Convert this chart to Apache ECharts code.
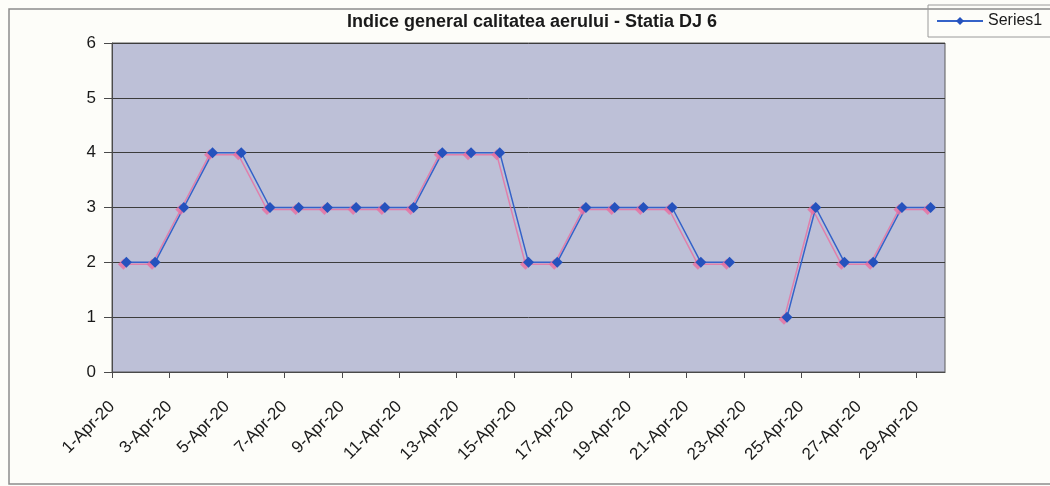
<!DOCTYPE html>
<html>
<head>
<meta charset="utf-8">
<script src="https://cdn.jsdelivr.net/npm/echarts@6/dist/echarts.min.js"></script>
<style>
  html, body { margin: 0; padding: 0; background: #fdfdf9; }
  #chart { width: 1050px; height: 486px; }
</style>
</head>
<body>
<div id="chart"></div>
<script>
// dates in the sheet, one per day
var dates = ['1-Apr-20', '2-Apr-20', '3-Apr-20', '4-Apr-20', '5-Apr-20', '6-Apr-20', '7-Apr-20',
    '8-Apr-20', '9-Apr-20', '10-Apr-20', '11-Apr-20', '12-Apr-20', '13-Apr-20', '14-Apr-20',
    '15-Apr-20', '16-Apr-20', '17-Apr-20', '18-Apr-20', '19-Apr-20', '20-Apr-20', '21-Apr-20',
    '22-Apr-20', '23-Apr-20', '24-Apr-20', '25-Apr-20', '26-Apr-20', '27-Apr-20', '28-Apr-20',
    '29-Apr-20'];
// index values, null = no reading
var series1 = [2, 2, 3, 4, 4, 3, 3, 3, 3, 3, 3, 4, 4, 4, 2, 2, 3, 3, 3, 3, 2, 2, null, 1, 3, 2, 2, 3, 3];
// every second day gets a tick + label
var labelDays = [0, 2, 4, 6, 8, 10, 12, 14, 16, 18, 20, 22, 24, 26, 28];
var yTicks = [0, 1, 2, 3, 4, 5, 6];

var font = 'Liberation Sans, Arial, sans-serif';

var points = [];
for (var i = 0; i < series1.length; i++) {
    // point sits in the middle of its day
    points.push([i + 0.5, series1[i] == null ? '-' : series1[i]]);
}

var chart = echarts.init(document.getElementById('chart'));

chart.setOption({
    backgroundColor: '#fdfdf9',
    animation: false,
    title: {
        text: 'Indice general calitatea aerului - Statia DJ 6',
        left: 527,
        textAlign: 'center',
        top: 8,
        textStyle: { fontFamily: font, fontSize: 18, fontWeight: 'bold', color: '#1a1a1a' }
    },
    legend: {
        left: 928,
        top: 5,
        padding: [8, 30, 8, 8],
        borderColor: '#9a9a9a',
        borderWidth: 1,
        itemWidth: 46,
        itemHeight: 10,
        itemGap: 4,
        textStyle: { fontFamily: font, fontSize: 16, color: '#1a1a1a' },
        data: ['Series1']
    },
    graphic: [{
        type: 'rect',
        shape: { x: 9, y: 9, width: 1060, height: 475 },
        style: { fill: 'none', stroke: '#8c8c8c', lineWidth: 1.5 },
        silent: true
    }],
    grid: {
        left: 112,
        right: 105,
        top: 43,
        bottom: 114,
        show: true,
        backgroundColor: '#bdc0d7',
        borderColor: '#5a5a5a',
        borderWidth: 1
    },
    xAxis: {
        type: 'value',
        min: 0,
        max: dates.length,
        splitLine: { show: false },
        axisLine: { show: true, lineStyle: { color: '#4a4a4a', width: 1.2 } },
        axisTick: { show: true, length: 6, customValues: labelDays, lineStyle: { color: '#4a4a4a' } },
        axisLabel: {
            customValues: labelDays,
            rotate: 45,
            margin: 32,
            fontFamily: font,
            fontSize: 17,
            color: '#1a1a1a',
            formatter: function (v) { return dates[v] || ''; }
        }
    },
    yAxis: {
        type: 'value',
        min: yTicks[0],
        max: yTicks[yTicks.length - 1],
        interval: 1,
        axisLine: { show: true, lineStyle: { color: '#4a4a4a' } },
        axisTick: { show: true, length: 8, lineStyle: { color: '#4a4a4a' } },
        splitLine: { show: true, lineStyle: { color: '#3c3c3c', width: 1 } },
        axisLabel: { margin: 16, fontFamily: font, fontSize: 17, color: '#1a1a1a' }
    },
    series: [{
        name: 'Series1',
        type: 'line',
        data: points,
        connectNulls: false,
        symbol: 'diamond',
        symbolSize: 11,
        color: '#2a56c0',
        lineStyle: {
            color: '#3462c8',
            width: 1.5,
            shadowColor: 'rgba(232, 110, 160, 0.8)',
            shadowBlur: 0,
            shadowOffsetX: -3,
            shadowOffsetY: 2
        },
        itemStyle: {
            color: '#2552bd',
            shadowColor: 'rgba(232, 110, 160, 0.8)',
            shadowBlur: 0,
            shadowOffsetX: -3,
            shadowOffsetY: 2
        }
    }]
});
</script>
</body>
</html>
